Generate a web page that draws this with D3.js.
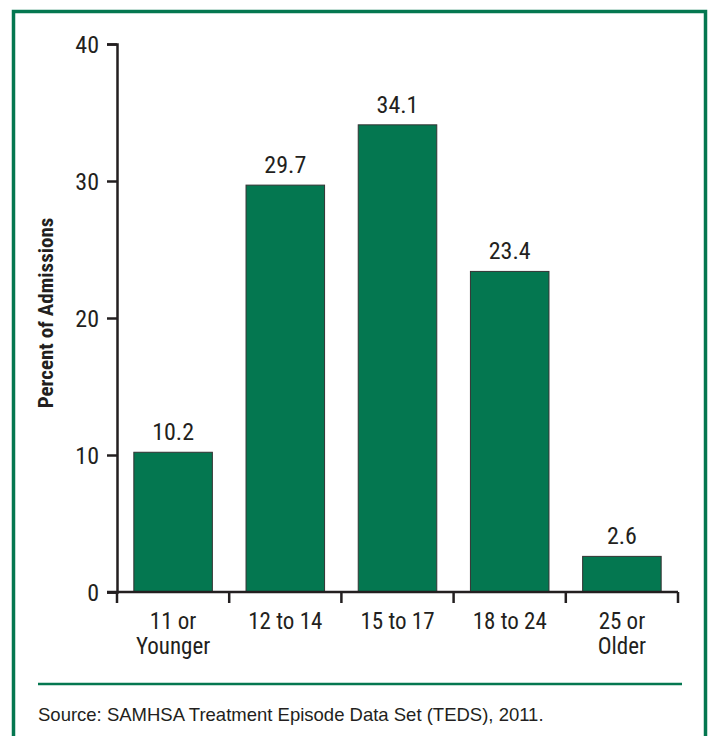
<!DOCTYPE html>
<html>
<head>
<meta charset="utf-8">
<script src="https://cdn.jsdelivr.net/npm/d3@7"></script>
<style>
  body { margin: 0; background: #fff; }
  svg { display: block; }
  .cond { font-family: "Liberation Sans Narrow", "Arial Narrow", "Roboto Condensed", sans-serif; fill: #231f20; }
</style>
</head>
<body>
<div id="chart"></div>
<script>
const categories = ['11 or\nYounger', '12 to 14', '15 to 17', '18 to 24', '25 or\nOlder'];
const values = [10.2, 29.7, 34.1, 23.4, 2.6];
const yTicks = [0, 10, 20, 30, 40];
const yTitle = 'Percent of Admissions';
const source = 'Source: SAMHSA Treatment Episode Data Set (TEDS), 2011.';

const width = 709;
const height = 736;
const green = '#047750';
const margin = { top: 44, right: 31, bottom: 144, left: 117 };

const svg = d3.select('#chart').append('svg')
  .attr('width', width)
  .attr('height', height);

// frame
svg.append('path')
  .attr('d', `M13.5,${height + 5}V11.5H705.5V${height + 5}`)
  .attr('fill', 'none')
  .attr('stroke', green)
  .attr('stroke-width', 3.5);

const x = d3.scaleBand()
  .domain(categories)
  .range([margin.left, width - margin.right])
  .paddingInner(0.3)
  .paddingOuter(0.15);

const y = d3.scaleLinear()
  .domain([0, 40])
  .range([height - margin.bottom, margin.top]);

// bars
svg.append('g')
  .selectAll('rect')
  .data(values)
  .join('rect')
  .attr('x', (d, i) => x(categories[i]))
  .attr('y', (d) => y(d))
  .attr('width', x.bandwidth())
  .attr('height', (d) => y(0) - y(d))
  .attr('fill', green)
  .attr('stroke', '#333')
  .attr('stroke-width', 1);

// value labels
svg.append('g')
  .selectAll('text')
  .data(values)
  .join('text')
  .attr('class', 'cond')
  .attr('x', (d, i) => x(categories[i]) + x.bandwidth() / 2)
  .attr('y', (d) => y(d) - 12)
  .attr('text-anchor', 'middle')
  .style('font-size', '24px')
  .text((d) => d.toFixed(1));

// y axis
const yAxis = svg.append('g')
  .attr('transform', `translate(${margin.left},0)`)
  .call(d3.axisLeft(y).tickValues(yTicks).tickSize(10).tickPadding(8));
yAxis.select('.domain').attr('stroke', '#231f20').attr('stroke-width', 2.5);
yAxis.selectAll('.tick line').attr('stroke', '#231f20').attr('stroke-width', 2.5);
yAxis.selectAll('.tick text')
  .attr('class', 'cond')
  .attr('dy', '0.36em')
  .style('font-size', '24px');

// x axis: ticks at band boundaries
const bounds = [margin.left].concat(categories.map((c) => x(c) + x.bandwidth() + x.step() * x.paddingInner() / 2));
bounds[bounds.length - 1] = width - margin.right;
const xg = svg.append('g');
xg.append('line')
  .attr('x1', margin.left - 10)
  .attr('x2', width - margin.right)
  .attr('y1', y(0))
  .attr('y2', y(0))
  .attr('stroke', '#231f20')
  .attr('stroke-width', 2.5);
xg.selectAll('line.tk')
  .data(bounds)
  .join('line')
  .attr('class', 'tk')
  .attr('x1', (d) => d)
  .attr('x2', (d) => d)
  .attr('y1', y(0))
  .attr('y2', y(0) + 11)
  .attr('stroke', '#231f20')
  .attr('stroke-width', 2.5);

xg.selectAll('text')
  .data(categories)
  .join('text')
  .attr('class', 'cond')
  .attr('text-anchor', 'middle')
  .style('font-size', '23px')
  .attr('transform', (d) => `translate(${x(d) + x.bandwidth() / 2},${y(0) + 37})`)
  .selectAll('tspan')
  .data((d) => d.split('\n'))
  .join('tspan')
  .attr('x', 0)
  .attr('dy', (d, i) => (i === 0 ? 0 : 25))
  .text((d) => d);

// y title
svg.append('text')
  .attr('class', 'cond')
  .attr('transform', `translate(53,${(y(0) + y(40)) / 2 - 5}) rotate(-90)`)
  .attr('text-anchor', 'middle')
  .style('font-size', '21px')
  .style('font-weight', 'bold')
  .text(yTitle);

// separator and source
svg.append('line')
  .attr('x1', 38)
  .attr('x2', 682)
  .attr('y1', 684)
  .attr('y2', 684)
  .attr('stroke', green)
  .attr('stroke-width', 2.5);

svg.append('text')
  .attr('x', 38)
  .attr('y', 721)
  .style('font-family', '"Liberation Sans", Arial, sans-serif')
  .style('font-size', '18.5px')
  .attr('fill', '#231f20')
  .text(source);
</script>
</body>
</html>
